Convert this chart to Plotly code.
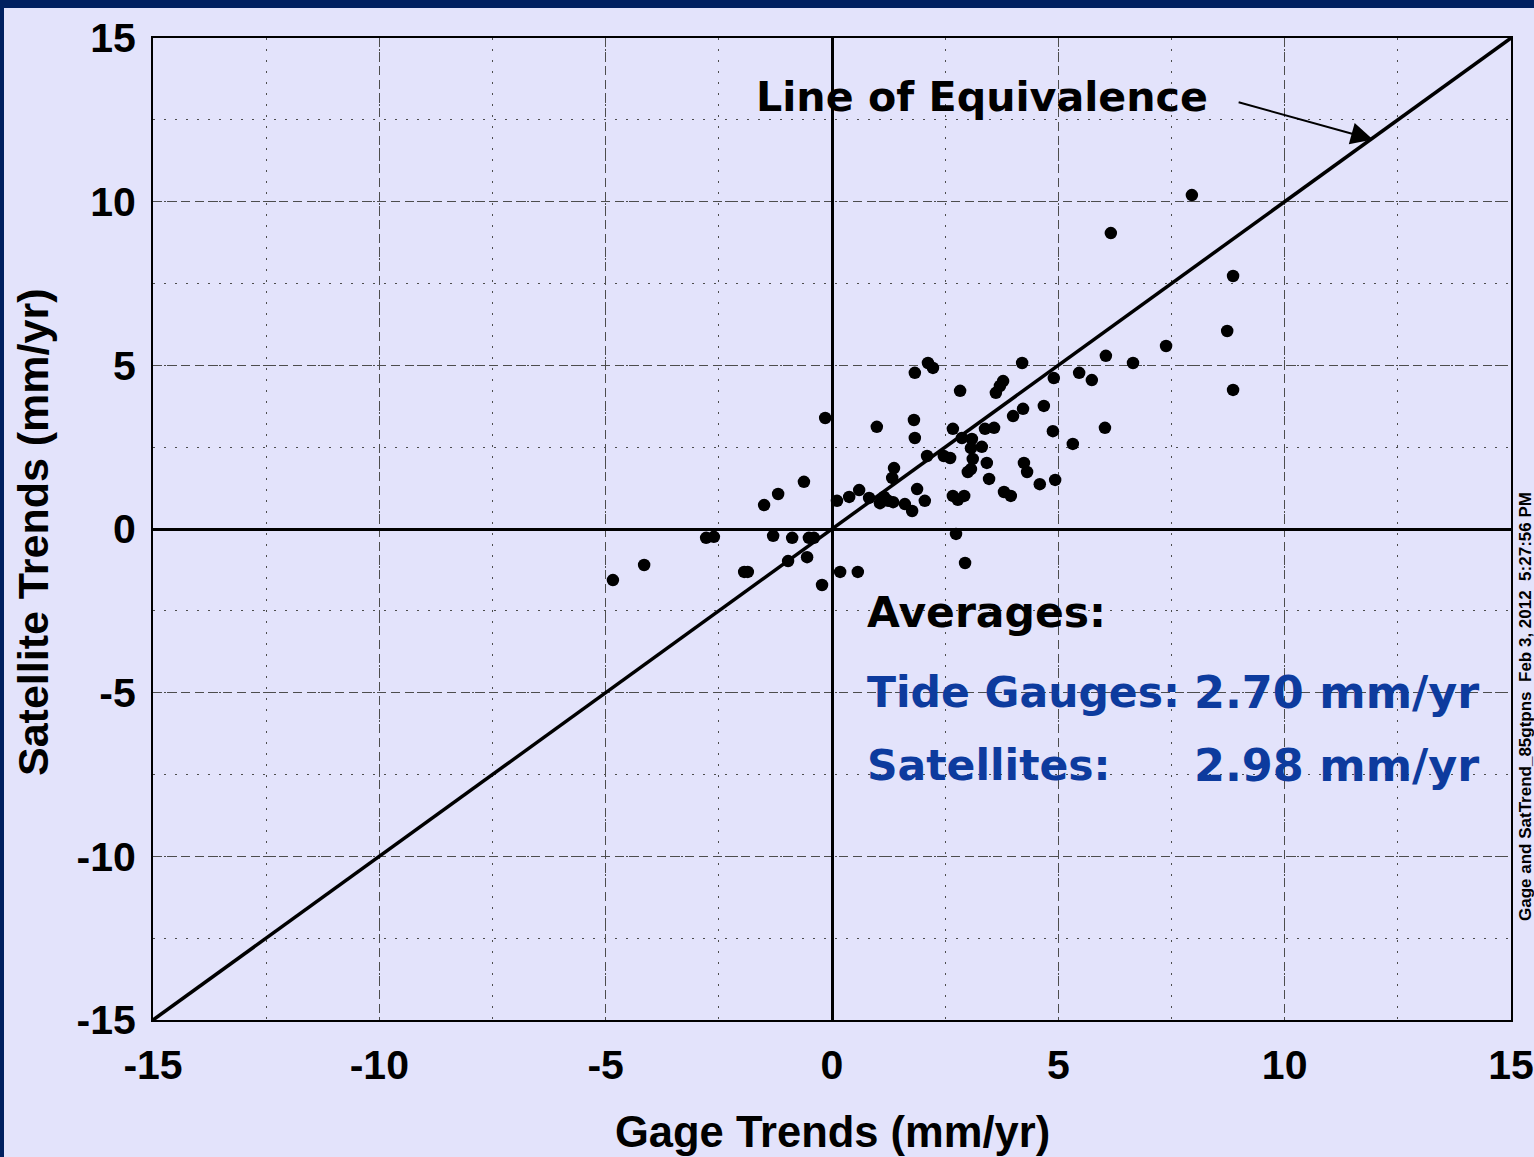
import plotly.graph_objects as go

# Data (mm/yr)
gage_trends = [-4.84, -4.15, -2.78, -2.61, -1.94, -1.86, -1.50, -1.19, -1.30, -0.97,
               -0.88, -0.62, -0.55, -0.51, -0.40, -0.22, -0.15, 0.18, 0.57, 0.11,
               0.38, 0.60, 0.82, 0.99, 1.06, 1.15, 1.24, 1.35, 1.33, 1.37,
               1.61, 1.77, 1.81, 1.83, 1.83, 1.88, 2.05, 2.12, 2.23, 2.10,
               2.47, 2.61, 2.67, 2.67, 2.78, 2.92, 2.74, 2.83, 2.87, 2.94,
               3.09, 3.07, 3.11, 3.00, 3.07, 3.31, 3.38, 3.42, 3.47, 3.58,
               3.62, 3.71, 3.78, 3.80, 3.95, 4.00, 4.22, 4.20, 4.24, 4.31,
               4.59, 4.68, 4.90, 4.88, 4.93, 5.32, 5.46, 5.74, 6.03, 6.05,
               6.65, 7.38, 6.16, 7.95, 8.73, 8.86, 8.86]
satellite_trends = [-1.56, -1.10, -0.27, -0.24, -1.31, -1.31, 0.73, 1.07, -0.21, -0.98,
                    -0.27, 1.44, -0.86, -0.27, -0.27, -1.71, 3.39, -1.31, -1.31, 0.86,
                    0.98, 1.19, 0.95, 3.12, 0.79, 0.98, 0.86, 0.82, 1.56, 1.86,
                    0.76, 0.55, 3.33, 4.77, 2.78, 1.22, 0.86, 5.07, 4.92, 2.23,
                    2.23, 2.17, 3.06, 1.01, 0.89, 1.01, -0.15, 4.22, 2.78, -1.04,
                    2.75, 2.47, 2.14, 1.74, 1.83, 2.51, 3.06, 2.02, 1.53, 3.09,
                    4.16, 4.37, 4.52, 1.13, 1.01, 3.45, 3.67, 5.07, 2.02, 1.74,
                    1.37, 3.76, 4.61, 2.99, 1.50, 2.60, 4.77, 4.55, 3.09, 5.29,
                    5.07, 5.59, 9.04, 10.20, 6.05, 7.73, 4.25]

equivalence_x = [-15, 15]
equivalence_y = [-15, 15]
tick_vals = [-15, -10, -5, 0, 5, 10, 15]
tick_text = ["-15", "-10", "-5", "0", "5", "10", "15"]

avg_gauges = "2.70 mm/yr"
avg_sats = "2.98 mm/yr"

BG = "#E3E3FB"
NAVY = "#002060"
BLUE = "#0D3B9E"
W, H = 1534, 1157
L, R, T, B = 153, 23, 38, 137
PW, PH = W - L - R, H - T - B

def px(xp):
    return (xp - L) / PW

def py(yp):
    return (H - B - yp) / PH

fig = go.Figure()

fig.add_trace(go.Scatter(x=equivalence_x, y=equivalence_y, mode="lines",
                         line=dict(color="black", width=3.5), hoverinfo="skip",
                         showlegend=False))
fig.add_trace(go.Scatter(x=gage_trends, y=satellite_trends, mode="markers",
                         marker=dict(color="black", size=12.5, line=dict(width=0)),
                         showlegend=False))

axis_common = dict(
    range=[-15, 15], tickmode="array", tickvals=tick_vals, ticktext=tick_text,
    showline=True, linecolor="black", linewidth=2, mirror=True,
    showgrid=True, gridcolor="#4d4d4d", gridwidth=1.2, griddash="9px,5px",
    zeroline=True, zerolinecolor="black", zerolinewidth=3,
    minor=dict(dtick=2.5, tick0=0, showgrid=True, gridcolor="#4d4d4d",
               gridwidth=1.2, griddash="2px,9px"),
    ticks="", tickfont=dict(family="Liberation Sans, Arial", size=41,
                            color="black", weight="bold"),
    fixedrange=True, automargin=False,
)
fig.update_xaxes(**axis_common, ticklabelstandoff=8)
fig.update_yaxes(**axis_common, ticklabelstandoff=7)

annos = []
# axis titles
annos.append(dict(text="<b>Gage Trends (mm/yr)</b>", xref="paper", yref="paper",
                  x=px(832), y=py(1132), xanchor="center", yanchor="middle",
                  showarrow=False,
                  font=dict(family="Liberation Sans, Arial", size=43.5, color="black")))
annos.append(dict(text="<b>Satellite Trends (mm/yr)</b>", xref="paper", yref="paper",
                  x=px(33), y=py(532), xanchor="center", yanchor="middle",
                  textangle=-90, showarrow=False,
                  font=dict(family="Liberation Sans, Arial", size=43, color="black")))
# line of equivalence label + arrow
annos.append(dict(text="<b>Line of Equivalence</b>", xref="paper", yref="paper",
                  x=px(754), y=py(97), xanchor="left", yanchor="middle",
                  showarrow=False,
                  font=dict(family="DejaVu Sans", size=41.2, color="black")))
annos.append(dict(text="", x=11.95, y=11.9, xref="x", yref="y",
                  ax=8.95, ay=13.05, axref="x", ayref="y",
                  showarrow=True, arrowhead=2, arrowsize=2.2, arrowwidth=2,
                  arrowcolor="black", standoff=0))
# averages block
fnt = "DejaVu Sans"
annos.append(dict(text="<b>Averages:</b>", xref="paper", yref="paper",
                  x=px(865), y=py(612), xanchor="left", yanchor="middle",
                  showarrow=False, font=dict(family=fnt, size=42.5, color="black")))
annos.append(dict(text="<b>Tide Gauges:</b>", xref="paper", yref="paper",
                  x=px(865), y=py(692), xanchor="left", yanchor="middle",
                  showarrow=False, font=dict(family=fnt, size=42.5, color=BLUE)))
annos.append(dict(text="<b>" + avg_gauges + "</b>", xref="paper", yref="paper",
                  x=px(1192), y=py(692), xanchor="left", yanchor="middle",
                  showarrow=False, font=dict(family=fnt, size=44.5, color=BLUE)))
annos.append(dict(text="<b>Satellites:</b>", xref="paper", yref="paper",
                  x=px(865), y=py(765), xanchor="left", yanchor="middle",
                  showarrow=False, font=dict(family=fnt, size=42.5, color=BLUE)))
annos.append(dict(text="<b>" + avg_sats + "</b>", xref="paper", yref="paper",
                  x=px(1192), y=py(765), xanchor="left", yanchor="middle",
                  showarrow=False, font=dict(family=fnt, size=44.5, color=BLUE)))
# file stamp at right edge
annos.append(dict(text="<b>Gage and SatTrend_85gtpns  Feb 3, 2012  5:27:56 PM</b>",
                  xref="paper", yref="paper", x=px(1525), y=py(707),
                  xanchor="center", yanchor="middle", textangle=-90,
                  showarrow=False,
                  font=dict(family="Liberation Sans, Arial", size=17, color="black")))

shapes = [
    dict(type="rect", xref="paper", yref="paper", x0=px(0), x1=px(W + 5),
         y0=py(8), y1=py(-5), fillcolor=NAVY, line=dict(width=0), layer="above"),
    dict(type="rect", xref="paper", yref="paper", x0=px(-5), x1=px(4),
         y0=py(H + 5), y1=py(-5), fillcolor=NAVY, line=dict(width=0), layer="above"),
]

fig.update_layout(
    width=W, height=H, autosize=False,
    margin=dict(l=L, r=R, t=T, b=B, pad=0, autoexpand=False),
    paper_bgcolor=BG, plot_bgcolor=BG,
    annotations=annos, shapes=shapes,
    showlegend=False,
)

fig.write_html("out.html", config={"displayModeBar": False})
